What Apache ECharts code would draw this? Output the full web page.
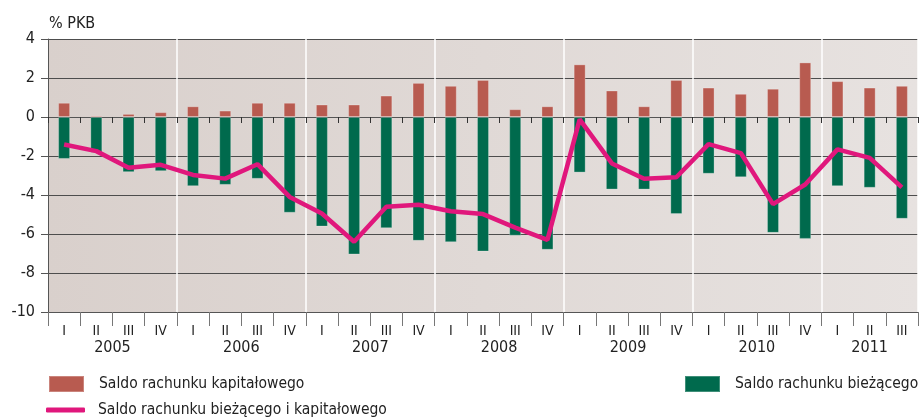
<!DOCTYPE html>
<html>
<head>
<meta charset="utf-8">
<script src="https://cdn.jsdelivr.net/npm/echarts@6/dist/echarts.min.js"></script>
<style>
  html, body { margin: 0; padding: 0; background: #fff; }
  #chart { width: 919px; height: 419px; }
</style>
</head>
<body>
<div id="chart"></div>
<script>
// kwartały 2005 I - 2011 III
var quarters = ["I","II","III","IV","I","II","III","IV","I","II","III","IV","I","II","III","IV",
  "I","II","III","IV","I","II","III","IV","I","II","III"];
var years = ["2005","2006","2007","2008","2009","2010","2011"];
// pozycja podpisu roku na osi (w jednostkach kwartałów)
var yearPos = [2, 6, 10, 14, 18, 22, 25.5];

// saldo rachunku kapitałowego (% PKB)
var capital = [0.73, 0.08, 0.16, 0.25, 0.55, 0.33, 0.73, 0.73, 0.64, 0.64, 1.1, 1.75,
  1.6, 1.9, 0.4, 0.55, 2.7, 1.36, 0.55, 1.9, 1.51, 1.19, 1.45, 2.8, 1.84, 1.51, 1.6];
// saldo rachunku bieżącego (% PKB)
var current = [-2.15, -1.83, -2.83, -2.78, -3.55, -3.48, -3.17, -4.91, -5.62, -7.05, -5.7, -6.35,
  -6.42, -6.9, -6.09, -6.81, -2.85, -3.72, -3.72, -4.98, -2.91, -3.09, -5.94, -6.25, -3.55, -3.63, -5.22];
// saldo rachunku bieżącego i kapitałowego (% PKB)
var total = [-1.41, -1.75, -2.6, -2.45, -2.97, -3.16, -2.42, -4.1, -4.95, -6.4, -4.6, -4.5,
  -4.83, -4.98, -5.67, -6.3, -0.12, -2.38, -3.17, -3.09, -1.39, -1.85, -4.47, -3.46, -1.66, -2.1, -3.61];

var font = "'Liberation Sans Narrow', 'DejaVu Sans Condensed', sans-serif";
var legendText = { fontSize: 15.5, color: "#222", padding: [0, 0, 0, 10] };
var chart = echarts.init(document.getElementById("chart"));

chart.setOption({
  animation: false,
  textStyle: { fontFamily: font },
  title: {
    text: "% PKB",
    left: 44,
    top: 11,
    textStyle: { fontSize: 16, fontWeight: "normal", color: "#222", fontFamily: font }
  },
  grid: {
    left: 48,
    right: 1,
    top: 39,
    bottom: 107,
    show: true,
    borderWidth: 0,
    backgroundColor: new echarts.graphic.LinearGradient(0, 0, 1, 0, [
      { offset: 0, color: "#d9d0cc" },
      { offset: 1, color: "#e7e2e0" }
    ])
  },
  legend: [
    {
      left: 48,
      top: 375,
      padding: 0,
      itemWidth: 35,
      itemHeight: 16,
      icon: "rect",
      textStyle: legendText,
      data: ["Saldo rachunku kapitałowego"]
    },
    {
      left: 46,
      top: 402,
      padding: 0,
      itemWidth: 39,
      itemHeight: 5,
      icon: "roundRect",
      textStyle: { fontSize: 15.5, color: "#222", padding: [0, 0, 0, 8] },
      data: ["Saldo rachunku bieżącego i kapitałowego"]
    },
    {
      left: 684,
      top: 375,
      padding: 0,
      itemWidth: 35,
      itemHeight: 16,
      icon: "rect",
      textStyle: legendText,
      data: ["Saldo rachunku bieżącego"]
    }
  ],
  xAxis: [
    {
      type: "category",
      data: quarters,
      axisLine: { onZero: true, lineStyle: { color: "#555", width: 1 } },
      axisTick: { show: true, length: 6, lineStyle: { color: "#333" } },
      axisLabel: { show: false },
      splitLine: { show: false }
    },
    {
      type: "category",
      data: quarters,
      position: "bottom",
      axisLine: { onZero: false, lineStyle: { color: "#555", width: 1 } },
      axisTick: { show: true, length: 14, lineStyle: { color: "#777" } },
      axisLabel: { fontSize: 14, color: "#222", margin: 12 },
      splitLine: { show: false }
    },
    {
      // podpisy lat
      type: "value",
      min: 0,
      max: 27,
      interval: 0.5,
      position: "bottom",
      axisLine: { show: false, onZero: false },
      axisTick: { show: false },
      splitLine: { show: false },
      axisLabel: {
        fontSize: 16,
        color: "#222",
        margin: 28,
        showMinLabel: false,
        showMaxLabel: false,
        formatter: function (v) {
          var i = yearPos.indexOf(v);
          return i >= 0 ? years[i] : "";
        }
      }
    },
    {
      // białe linie między latami
      type: "value",
      min: 0,
      max: 27,
      interval: 4,
      position: "bottom",
      axisLine: { show: false, onZero: false },
      axisTick: { show: false },
      axisLabel: { show: false },
      splitLine: { show: true, lineStyle: { color: "#ffffff", width: 1.5 } }
    }
  ],
  yAxis: {
    type: "value",
    min: -10,
    max: 4,
    interval: 2,
    axisLine: { show: true, onZero: false, lineStyle: { color: "#555" } },
    axisTick: { show: true, length: 7, lineStyle: { color: "#555" } },
    axisLabel: { fontSize: 16, color: "#222", margin: 13 },
    splitLine: { show: true, lineStyle: { color: "#4d4d4d", width: 1 } }
  },
  series: [
    {
      name: "Saldo rachunku kapitałowego",
      type: "bar",
      stack: "saldo",
      xAxisIndex: 0,
      barWidth: 12,
      itemStyle: { color: "#b85b50", borderColor: "rgba(255,255,255,0.25)", borderWidth: 1 },
      data: capital
    },
    {
      name: "Saldo rachunku bieżącego",
      type: "bar",
      stack: "saldo",
      xAxisIndex: 0,
      barWidth: 12,
      itemStyle: { color: "#006a4d", borderColor: "rgba(255,255,255,0.25)", borderWidth: 1 },
      data: current
    },
    {
      name: "Saldo rachunku bieżącego i kapitałowego",
      type: "line",
      xAxisIndex: 0,
      symbol: "none",
      lineStyle: { color: "#e0177c", width: 4.5 },
      itemStyle: { color: "#e0177c" },
      data: total
    }
  ]
});
</script>
</body>
</html>
